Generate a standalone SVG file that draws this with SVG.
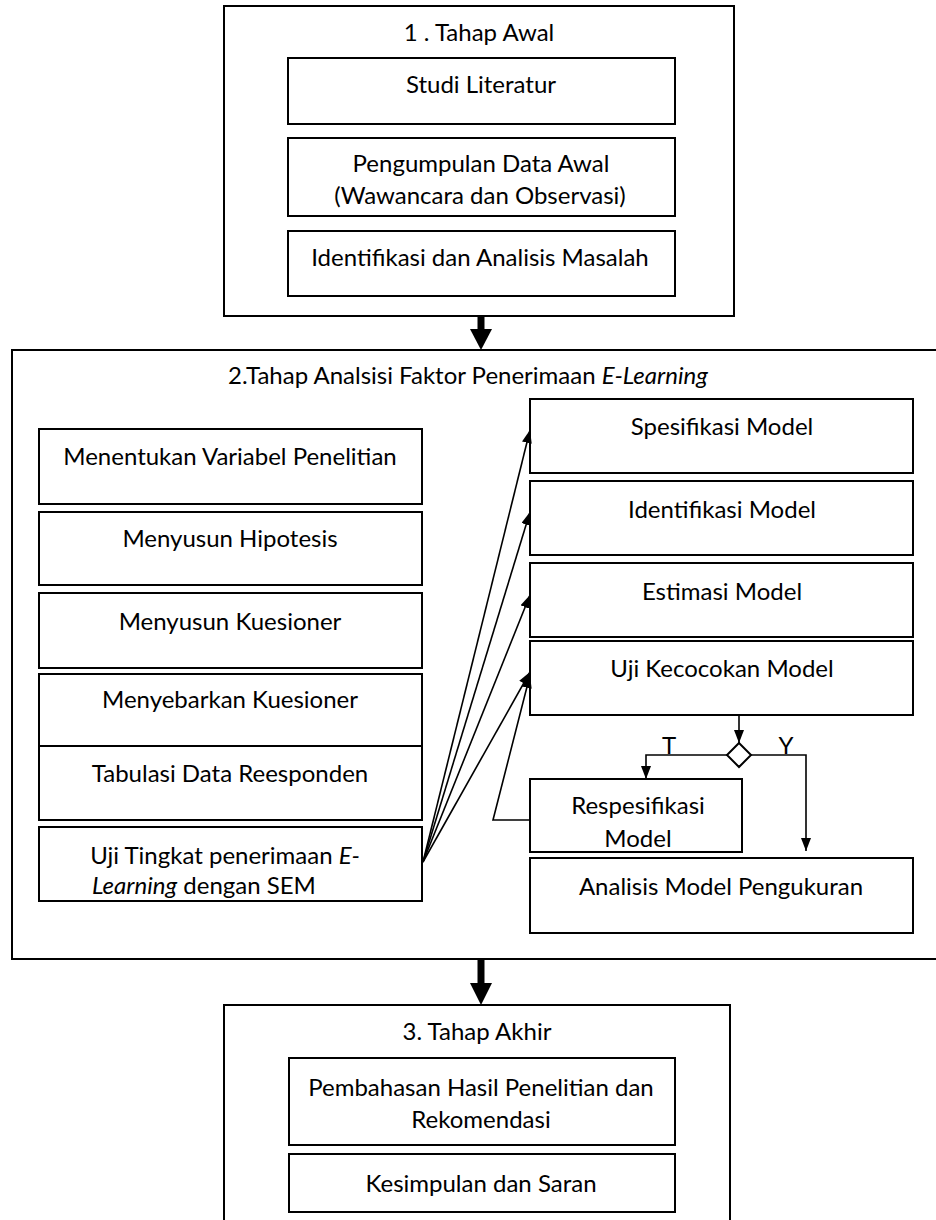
<svg xmlns="http://www.w3.org/2000/svg" width="936" height="1220" viewBox="0 0 936 1220">
<style>
text{font-family:Lato,"Liberation Sans",sans-serif;font-size:24px;fill:#000;text-anchor:middle}
.box{fill:#fff;stroke:#000;stroke-width:2}
.frame{fill:none;stroke:#000;stroke-width:2}
.ln{fill:none;stroke:#000;stroke-width:1.6}
.it{font-style:italic}
</style>
<defs>
<marker id="ah" markerUnits="userSpaceOnUse" markerWidth="14" markerHeight="12" refX="13" refY="5" orient="auto">
<path d="M0,0 L13,5 L0,10 z" fill="#000"/>
</marker>
</defs>
<rect width="936" height="1220" fill="#fff"/>

<g id="stage1">
<rect class="frame" x="224" y="6" width="510" height="310"/>
<text x="479" y="41">1 . Tahap Awal</text>
</g>
<g id="studi"><rect class="box" x="288" y="58" width="387" height="66"/><text x="481" y="93">Studi Literatur</text></g>
<g id="pengumpulan"><rect class="box" x="288" y="138" width="387" height="78"/><text x="481" y="172">Pengumpulan Data Awal</text><text x="480" y="204">(Wawancara dan Observasi)</text></g>
<g id="identifikasi-masalah"><rect class="box" x="288" y="231" width="387" height="65"/><text x="480" y="266">Identifikasi dan Analisis Masalah</text></g>

<g id="stage2">
<rect class="frame" x="12" y="350" width="940" height="609"/>
<text x="468" y="384">2.Tahap Analsisi Faktor Penerimaan <tspan class="it">E-Learning</tspan></text>
</g>
<g id="variabel"><rect class="box" x="39" y="429" width="383" height="75"/><text x="230" y="465">Menentukan Variabel Penelitian</text></g>
<g id="hipotesis"><rect class="box" x="39" y="512" width="383" height="73"/><text x="230" y="547">Menyusun Hipotesis</text></g>
<g id="kuesioner"><rect class="box" x="39" y="593" width="383" height="75"/><text x="230" y="630">Menyusun Kuesioner</text></g>
<g id="menyebarkan"><rect class="box" x="39" y="674" width="383" height="72"/><text x="230" y="708">Menyebarkan Kuesioner</text></g>
<g id="tabulasi"><rect class="box" x="39" y="746" width="383" height="74"/><text x="230" y="782">Tabulasi Data Reesponden</text></g>
<g id="uji-tingkat"><rect class="box" x="39" y="827" width="383" height="74"/><text x="225" y="864">Uji Tingkat penerimaan <tspan class="it">E-</tspan></text><text x="204" y="894"><tspan class="it">Learning</tspan> dengan SEM</text></g>

<g id="spesifikasi"><rect class="box" x="530" y="399" width="383" height="74"/><text x="722" y="435">Spesifikasi Model</text></g>
<g id="identifikasi-model"><rect class="box" x="530" y="481" width="383" height="74"/><text x="722" y="518">Identifikasi Model</text></g>
<g id="estimasi"><rect class="box" x="530" y="563" width="383" height="74"/><text x="722" y="600">Estimasi Model</text></g>
<g id="uji-kecocokan"><rect class="box" x="530" y="641" width="383" height="74"/><text x="722" y="677">Uji Kecocokan Model</text></g>
<g id="decision"><path class="box" d="M739,743 L751,755 L739,767 L727,755 z" stroke-width="1.6"/></g>
<g id="respesifikasi"><rect class="box" x="530" y="779" width="212" height="73"/><text x="638" y="814">Respesifikasi</text><text x="638" y="847">Model</text></g>
<g id="analisis"><rect class="box" x="530" y="858" width="383" height="75"/><text x="721" y="895">Analisis Model Pengukuran</text></g>

<g id="stage3">
<rect class="frame" x="224" y="1005" width="506" height="240"/>
<text x="477" y="1040">3. Tahap  Akhir</text>
</g>
<g id="pembahasan"><rect class="box" x="289" y="1058" width="386" height="87"/><text x="481" y="1096">Pembahasan Hasil Penelitian dan</text><text x="481" y="1128">Rekomendasi</text></g>
<g id="kesimpulan"><rect class="box" x="289" y="1154" width="386" height="58"/><text x="481" y="1192">Kesimpulan dan Saran</text></g>

<g id="connectors">
<line x1="481" y1="316" x2="481" y2="331" stroke="#000" stroke-width="7"/>
<path d="M470,329 L492,329 L481,350 z" fill="#000"/>
<line x1="481" y1="959" x2="481" y2="985" stroke="#000" stroke-width="7"/>
<path d="M470,983 L492,983 L481,1005 z" fill="#000"/>
<line class="ln" x1="423" y1="862" x2="530" y2="430" marker-end="url(#ah)"/>
<line class="ln" x1="423" y1="862" x2="530" y2="512" marker-end="url(#ah)"/>
<line class="ln" x1="423" y1="862" x2="530" y2="595" marker-end="url(#ah)"/>
<line class="ln" x1="423" y1="862" x2="530" y2="672" marker-end="url(#ah)"/>
<polyline class="ln" points="530,820 493,820 530,675" marker-end="url(#ah)"/>
<line class="ln" x1="739" y1="715" x2="739" y2="743" marker-end="url(#ah)"/>
<polyline class="ln" points="727,755 646,755 646,779" marker-end="url(#ah)"/>
<polyline class="ln" points="751,755 806,755 806,851" marker-end="url(#ah)"/>
<text x="669" y="754">T</text>
<text x="786" y="754">Y</text>
</g>
</svg>
